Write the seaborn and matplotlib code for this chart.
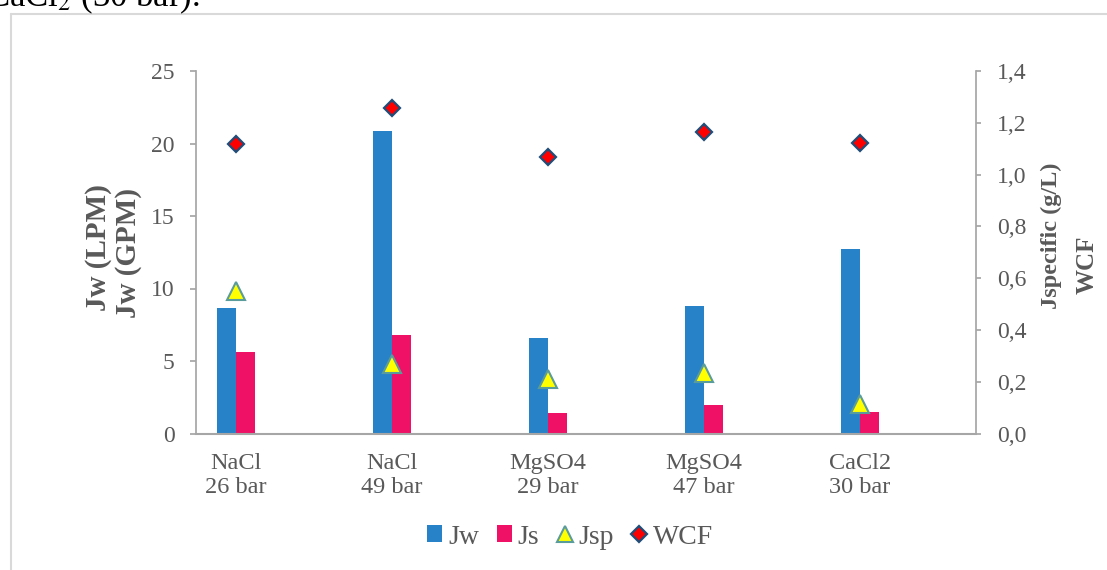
import numpy as np
import pandas as pd
import matplotlib
matplotlib.use("Agg")
import matplotlib.pyplot as plt
from matplotlib.lines import Line2D
from matplotlib.patches import Patch
from matplotlib.ticker import FuncFormatter, MultipleLocator
import seaborn as sns

categories = ["NaCl\n26 bar", "NaCl\n49 bar", "MgSO4\n29 bar", "MgSO4\n47 bar", "CaCl2\n30 bar"]
jw = [8.65, 20.85, 6.6, 8.8, 12.7]
js = [5.6, 6.8, 1.4, 2.0, 1.45]
jsp = [0.55, 0.27, 0.21, 0.235, 0.115]
wcf = [1.117, 1.257, 1.068, 1.163, 1.122]

sns.set_theme(style="white")
plt.rcParams["font.family"] = ["Liberation Serif", "DejaVu Serif"]
plt.rcParams["mathtext.fontset"] = "stix"

GRAY = "#595959"
SPINE = "#A6A6A6"
BLUE = "#2882C8"
PINK = "#EE1166"

fig = plt.figure(figsize=(11.07, 5.70), dpi=100)
W, H = 1107, 570
ax = fig.add_axes([196 / W, 1 - 433.5 / H, (976 - 196) / W, (433.5 - 71) / H])

df = pd.DataFrame({
    "cat": categories * 2,
    "val": jw + js,
    "series": ["Jw"] * len(categories) + ["Js"] * len(categories),
})
sns.barplot(data=df, x="cat", y="val", hue="series", order=categories,
            hue_order=["Jw", "Js"], palette=[BLUE, PINK], width=0.24,
            ax=ax, legend=False, saturation=1, edgecolor="none", linewidth=0)

ax2 = ax.twinx()
sns.pointplot(x=categories, y=jsp, order=categories, ax=ax2, linestyle="none",
              marker="^", color="#FFFF00", markersize=13, markeredgecolor="#5A9C9C",
              markeredgewidth=1.5, errorbar=None, zorder=5)
sns.pointplot(x=categories, y=wcf, order=categories, ax=ax2, linestyle="none",
              marker="D", color="#FF0000", markersize=8.5, markeredgecolor="#1F4E79",
              markeredgewidth=1.6, errorbar=None, zorder=5)

xl = (-40 / 156, 4 + 116 / 156)
ax.set_xlim(*xl)
ax2.set_xlim(*xl)
ax.set_ylim(0, 25)
ax2.set_ylim(0, 1.4)
ax.yaxis.set_major_locator(MultipleLocator(5))
ax2.yaxis.set_major_locator(MultipleLocator(0.2))
ax2.yaxis.set_major_formatter(FuncFormatter(lambda v, p: f"{v:.1f}".replace(".", ",")))

for a in (ax, ax2):
    a.spines["top"].set_visible(False)
    a.spines["bottom"].set_color(SPINE)
    a.spines["bottom"].set_linewidth(1.5)
ax.spines["right"].set_visible(False)
ax.spines["left"].set_color(SPINE)
ax2.spines["left"].set_visible(False)
ax2.spines["right"].set_color(SPINE)
ax2.spines["bottom"].set_visible(False)

ax.set_xticks(range(len(categories)))
ax.set_xticklabels(categories)
ax.tick_params(axis="x", length=0, labelsize=17.5, labelcolor=GRAY, pad=14)
ax.tick_params(axis="y", left=True, length=4.5, color=SPINE, labelsize=17, labelcolor=GRAY, pad=11)
ax2.tick_params(axis="y", right=True, length=3.6, color=SPINE, labelsize=17, labelcolor=GRAY, pad=11.5)
for lab in ax.get_xticklabels():
    lab.set_linespacing(1.2)

ax.set_xlabel("")
ax.set_ylabel("")
ax2.set_ylabel("")

# axis titles (two lines each)
lab_kw = dict(fontweight="bold", color=GRAY, rotation=90, ha="center", va="center")
fig.text(98 / W, 1 - 248 / H, "Jw (LPM)", fontsize=21, **lab_kw)
fig.text(128 / W, 1 - 253 / H, "Jw (GPM)", fontsize=21, **lab_kw)
fig.text(1051 / W, 1 - 235.5 / H, "Jspecific (g/L)", fontsize=17.5, **lab_kw)
fig.text(1087 / W, 1 - 265 / H, "WCF", fontsize=18, **lab_kw)

handles = [
    Patch(facecolor=BLUE, edgecolor="none", label="Jw"),
    Patch(facecolor=PINK, edgecolor="none", label="Js"),
    Line2D([], [], linestyle="none", marker="^", markersize=12, markerfacecolor="#FFFF00",
           markeredgecolor="#5A9C9C", markeredgewidth=1.5, label="Jsp"),
    Line2D([], [], linestyle="none", marker="D", markersize=8, markerfacecolor="#FF0000",
           markeredgecolor="#1F4E79", markeredgewidth=1.6, label="WCF"),
]
leg = fig.legend(handles=handles, loc="center", bbox_to_anchor=(570 / W, 1 - 537 / H), ncol=4,
                 frameon=False, fontsize=20, handlelength=0.55, handletextpad=0.2, columnspacing=0.65,
                 handleheight=0.55, borderpad=0)
for t in leg.get_texts():
    t.set_color(GRAY)

# outer frame (left and top edges visible)
fig.add_artist(Line2D([10.5 / W, 10.5 / W], [0, 1 - 13.5 / H], transform=fig.transFigure,
                      color="#D9D9D9", linewidth=1.5))
fig.add_artist(Line2D([10.5 / W, 1], [1 - 13.5 / H, 1 - 13.5 / H], transform=fig.transFigure,
                      color="#D9D9D9", linewidth=1.5))

fig.text(-14 / W, 1 - 6.5 / H, "CaCl$_2$ (30 bar).", fontsize=25, va="baseline", ha="left", color="black")

fig.savefig("out.png", dpi=100)
